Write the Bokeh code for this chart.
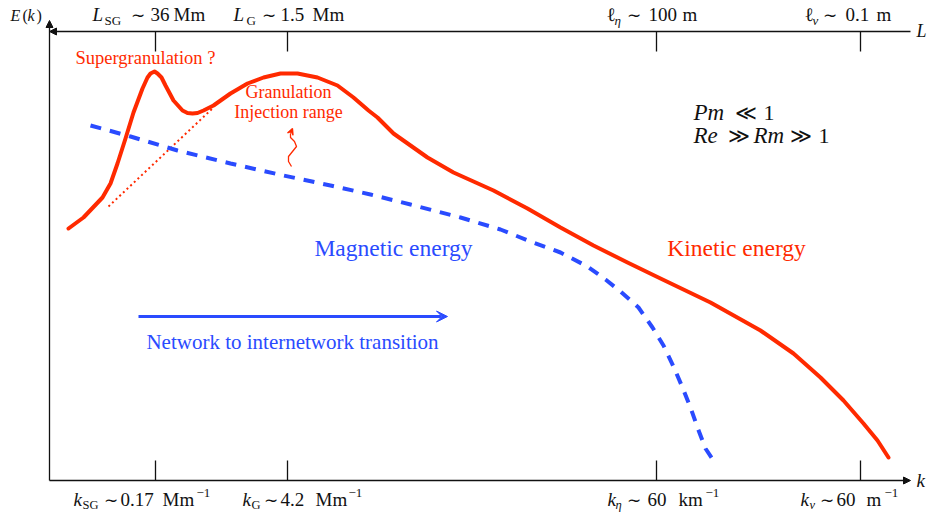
from bokeh.plotting import figure
from bokeh.models import Range1d, Arrow, NormalHead, VeeHead
from bokeh.core.properties import value
from bokeh.embed import file_html
from bokeh.resources import INLINE

# ---------------- data (schematic drawing units, y grows downward) ----------------
kinetic_x = [68, 83, 102, 110, 117, 125, 133, 142, 147, 150, 154, 157, 161, 165, 173, 182,
             187, 192, 197, 203, 213, 230, 247, 263, 280, 297, 317, 337, 353, 368, 377, 393,
             410, 427, 453, 493, 527, 560, 593, 627, 660, 710, 760, 793, 820, 843, 863, 877, 888]
kinetic_y = [228, 217, 197, 183, 163, 138, 112, 88, 77, 73, 71, 73, 77, 85, 100, 110,
             112.5, 113, 112.5, 110, 105, 93, 83, 77, 73, 73, 77, 85, 97, 110, 117, 133,
             145, 157, 172, 190, 208, 227, 245, 262, 278, 302, 330, 353, 377, 400, 423, 440, 457]

magnetic_x = [90, 130, 177, 230, 283, 330, 370, 410, 460, 500, 530, 560, 587, 605, 620,
              638, 652, 663, 673, 682, 690, 697, 705, 713]
magnetic_y = [125, 136, 150, 163, 175, 185, 194, 204, 217, 229, 241, 252, 266, 279, 291,
              307, 327, 345, 366, 387, 407, 427, 448, 460]

sg_slope_x = [108, 213]
sg_slope_y = [206, 107]

wave_x = [291, 288, 288, 292, 296, 294, 290, 290]
wave_y = [166, 161, 156, 151, 146, 141, 137, 133]

transition_x = [138, 447]
transition_y = [316, 316]

tick_x = [155, 287, 656, 860]
axis_left, axis_right = 49, 910
axis_top, axis_bottom = 31, 480
axis_ymax = 20

RED = "#ff2a00"
BLUE = "#2a4bff"
INK = "#111111"
FONT = "Liberation Serif"
BASELINE_SHIFT = 0.35  # compensates the svg text baseline placement (fraction of font size)

p = figure(width=930, height=514, x_range=Range1d(0, 930), y_range=Range1d(514, 0),
           output_backend="svg", toolbar_location=None, min_border=0,
           x_axis_type=None, y_axis_type=None)
p.grid.visible = False
p.outline_line_color = None
p.background_fill_color = "white"
p.border_fill_color = "white"


def txt(x, y, s, size, color=INK, style="normal", align="left"):
    p.text(x=[x], y=[y - BASELINE_SHIFT * size], text=[s], text_font=value(FONT),
           text_font_size=value(f"{size}px"), text_color=color, text_font_style=style,
           text_align=align, text_baseline="alphabetic")


# ---------------- axes ----------------
p.add_layout(Arrow(end=NormalHead(size=7, fill_color=INK, line_color=INK),
                   x_start=axis_left, y_start=axis_bottom, x_end=axis_right, y_end=axis_bottom,
                   line_width=1.3, line_color=INK))
p.add_layout(Arrow(end=NormalHead(size=7, fill_color=INK, line_color=INK),
                   x_start=axis_right, y_start=axis_top, x_end=axis_left, y_end=axis_top,
                   line_width=1.3, line_color=INK))
p.add_layout(Arrow(end=NormalHead(size=7, fill_color=INK, line_color=INK),
                   x_start=axis_left, y_start=axis_bottom, x_end=axis_left, y_end=axis_ymax,
                   line_width=1.3, line_color=INK))
p.segment(x0=tick_x, y0=[axis_top] * 4, x1=tick_x, y1=[axis_top + 20] * 4,
          line_color=INK, line_width=1.3)
p.segment(x0=tick_x, y0=[axis_bottom - 20] * 4, x1=tick_x, y1=[axis_bottom] * 4,
          line_color=INK, line_width=1.3)

# ---------------- curves ----------------
p.line(sg_slope_x, sg_slope_y, line_color=RED, line_width=2, line_dash="2 3")
p.line(magnetic_x, magnetic_y, line_color=BLUE, line_width=4, line_dash="11 9")
p.line(kinetic_x, kinetic_y, line_color=RED, line_width=4, line_join="round", line_cap="round")

p.line(wave_x, wave_y, line_color=RED, line_width=1.3, line_join="round")
p.add_layout(Arrow(end=VeeHead(size=6, line_color=RED, line_width=1.3, fill_color=RED),
                   x_start=wave_x[-1], y_start=wave_y[-1], x_end=wave_x[-1] + 2, y_end=wave_y[-1] - 5,
                   line_color=RED, line_width=1.3))

p.add_layout(Arrow(end=VeeHead(size=11, line_color=BLUE, fill_color=BLUE, line_width=1),
                   x_start=transition_x[0], y_start=transition_y[0],
                   x_end=transition_x[1], y_end=transition_y[1],
                   line_color=BLUE, line_width=3))

# ---------------- texts ----------------
# axis names
txt(10, 21, "E", 16, style="italic")
txt(22, 21, "(", 16)
txt(27, 21, "k", 16, style="italic")
txt(36, 21, ")", 16)
txt(916, 37, "L", 18, style="italic")
txt(916, 487, "k", 19, style="italic")

# top scale labels
txt(92, 21, "L", 19, style="italic"); txt(104, 24.5, "SG", 13)
txt(130, 21, "∼", 17); txt(150, 21, "36", 19); txt(173, 21, "Mm", 19)
txt(233, 21, "L", 19, style="italic"); txt(246, 24.5, "G", 13)
txt(261, 21, "∼", 17); txt(280, 21, "1.5", 19); txt(312, 21, "Mm", 19)
txt(606, 21, "ℓ", 19); txt(614, 24.5, "η", 13, style="italic")
txt(626, 21, "∼", 17); txt(648, 21, "100", 19); txt(682, 21, "m", 19)
txt(804, 21, "ℓ", 19); txt(812, 24.5, "ν", 13, style="italic")
txt(822, 21, "∼", 17); txt(845, 21, "0.1", 19); txt(876, 21, "m", 19)

# bottom scale labels
base, sub, sup = 505.5, 508.5, 497.5
txt(73, base, "k", 19, style="italic"); txt(82, sub, "SG", 12.5)
txt(103, base, "∼", 17); txt(120, base, "0.17", 19); txt(162, base, "Mm", 19)
txt(196, sup, "−1", 13)
txt(242, base, "k", 19, style="italic"); txt(251, sub, "G", 12.5)
txt(263, base, "∼", 17); txt(280, base, "4.2", 19); txt(315, base, "Mm", 19)
txt(348, sup, "−1", 13)
txt(607, base, "k", 19, style="italic"); txt(615, sub, "η", 12.5, style="italic")
txt(626, base, "∼", 17); txt(647, base, "60", 19); txt(678, base, "km", 19)
txt(705, sup, "−1", 13)
txt(800, base, "k", 19, style="italic"); txt(809, sub, "ν", 12.5, style="italic")
txt(819, base, "∼", 17); txt(836, base, "60", 19); txt(866, base, "m", 19)
txt(884, sup, "−1", 13)

# regime
txt(693, 120, "Pm", 23, style="italic"); txt(734, 120, "≪", 21); txt(763, 120, "1", 22)
txt(693, 143, "Re", 23, style="italic"); txt(727, 143, "≫", 21)
txt(753, 143, "Rm", 23, style="italic"); txt(789, 143, "≫", 21); txt(818, 143, "1", 22)

# annotations
txt(145, 63.5, "Supergranulation ?", 18.5, color=RED, align="center")
txt(288, 98, "Granulation", 18, color=RED, align="center")
txt(288, 117.5, "Injection range", 18, color=RED, align="center")
txt(393, 256, "Magnetic energy", 23.5, color=BLUE, align="center")
txt(736, 256, "Kinetic energy", 23.5, color=RED, align="center")
txt(292, 349, "Network to internetwork transition", 21, color=BLUE, align="center")

open("out.html", "w").write(file_html(p, INLINE))
